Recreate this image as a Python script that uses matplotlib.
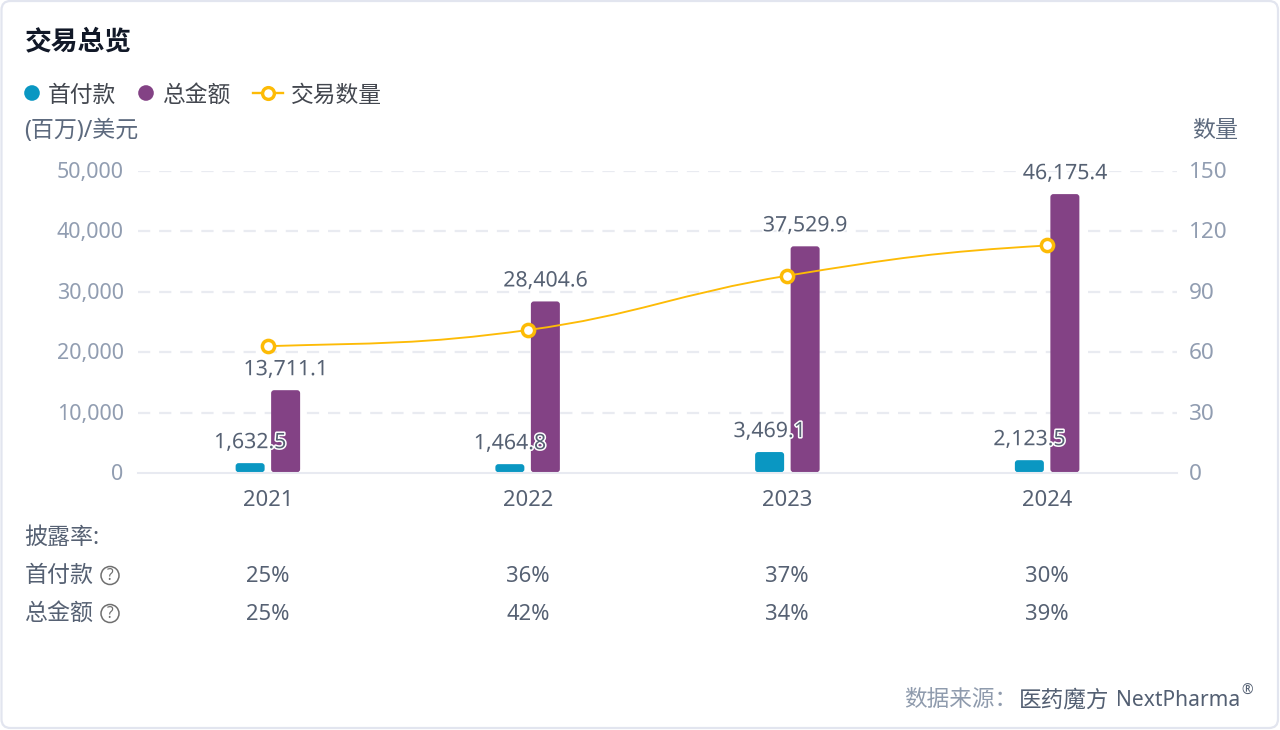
import matplotlib
matplotlib.use('Agg')
import matplotlib.pyplot as plt
import matplotlib.patheffects as pe
from matplotlib.patches import FancyBboxPatch, Circle
from matplotlib.path import Path
from matplotlib.patches import PathPatch
from matplotlib.transforms import ScaledTranslation

plt.rcParams['font.family'] = ['Noto Sans', 'Noto Sans CJK SC', 'DejaVu Sans']

years = ['2021', '2022', '2023', '2024']
upfront = [1632.5, 1464.8, 3469.1, 2123.5]
total = [13711.1, 28404.6, 37529.9, 46175.4]
deal_count = [63, 71, 98, 113]
upfront_rate = ['25%', '36%', '37%', '30%']
total_rate = ['25%', '42%', '34%', '39%']
left_ticks = [0, 10000, 20000, 30000, 40000, 50000]
right_ticks = [0, 30, 60, 90, 120, 150]

TEAL = '#0a97c2'
PURPLE = '#834285'
YELLOW = '#fdbb06'
AXIS_GREY = '#919db1'
LABEL = '#566173'


def px(size):
    return size * 0.72


def smooth_path(xs, ys, k=0.42):
    # cubic segments, tangents from the neighbouring points
    verts = [(xs[0], ys[0])]
    codes = [Path.MOVETO]
    n = len(xs)
    for i in range(n - 1):
        prev_y = ys[max(i - 1, 0)]
        next_y = ys[min(i + 2, n - 1)]
        dx = xs[i + 1] - xs[i]
        verts.append((xs[i] + dx * k, ys[i] + (ys[i + 1] - prev_y) * k / 2))
        verts.append((xs[i + 1] - dx * k, ys[i + 1] - (next_y - ys[i]) * k / 2))
        verts.append((xs[i + 1], ys[i + 1]))
        codes += [Path.CURVE4] * 3
    return Path(verts, codes)


def main():
    fig = plt.figure(figsize=(12.8, 7.3), dpi=100, facecolor='white')

    # overlay in pixel coordinates for the card and the html-like text
    ov = fig.add_axes([0, 0, 1, 1], zorder=0)
    ov.set_xlim(0, 1280)
    ov.set_ylim(730, 0)
    ov.axis('off')
    ov.add_patch(FancyBboxPatch((1.5, 1), 1276.5, 727, boxstyle='round,pad=0,rounding_size=9',
                                fc='white', ec='#e2e5ef', lw=1.6))

    ax = fig.add_axes([138 / 1280, (730 - 473) / 730, (1177 - 138) / 1280, 302 / 730], zorder=1)
    ax.patch.set_alpha(0)
    ax.set_xlim(-0.5, 3.5)
    ax.set_ylim(0, 50000)
    for s in ['top', 'left', 'right']:
        ax.spines[s].set_visible(False)
    ax.spines['bottom'].set_color('#e8eaf1')
    ax.spines['bottom'].set_linewidth(1.5)
    ax.set_yticks(left_ticks)
    ax.set_yticklabels([f'{v:,}' for v in left_ticks])
    ax.set_xticks(range(len(years)))
    ax.set_xticklabels(years)
    ax.tick_params(axis='y', length=0, pad=10.3, labelsize=px(21.5), labelcolor=AXIS_GREY)
    ax.tick_params(axis='x', length=0, pad=12, labelsize=px(22), labelcolor=LABEL)
    for v in left_ticks[1:]:
        ax.axhline(v, color='#e9ebf1', lw=1.6, dashes=(5.5, 4), zorder=0)

    # pixel -> data scale, so the corners stay round
    bar_w = 29 / 259.75
    gap = 35.5 / 259.75
    aspect = (50000 / 302) / (1 / 259.75)
    round_x = 3 / 259.75
    halo = [pe.withStroke(linewidth=2.2, foreground='white')]
    for i in range(len(years)):
        for val, off, col in [(upfront[i], -gap / 2, TEAL), (total[i], gap / 2, PURPLE)]:
            center = i + off
            ax.add_patch(FancyBboxPatch((center - bar_w / 2, 130), bar_w, val - 130,
                                        boxstyle=f'round,pad=0,rounding_size={round_x}',
                                        mutation_aspect=aspect, fc=col, ec='none', zorder=2))
            ax.text(center, val + 1650, f'{val:,.1f}', ha='center', va='bottom', fontsize=px(21.3),
                    color=LABEL, path_effects=halo, zorder=5)

    ax2 = ax.twinx()
    ax2.set_position(ax.get_position())
    ax2.patch.set_alpha(0)
    ax2.set_ylim(0, 150)
    for s in ax2.spines.values():
        s.set_visible(False)
    ax2.set_yticks(right_ticks)
    ax2.tick_params(axis='y', length=0, pad=8.5, labelsize=px(22.5), labelcolor=AXIS_GREY)
    xs = list(range(len(years)))
    ax2.add_patch(PathPatch(smooth_path(xs, deal_count), fc='none', ec=YELLOW, lw=1.35, zorder=3))
    ax2.plot(xs, deal_count, ls='none', marker='o', ms=8.8, mfc='white', mec=YELLOW, mew=2.5, zorder=4,
             clip_on=False)

    # tick labels sit one pixel above their gridlines
    up = ScaledTranslation(0, 1 / 100, fig.dpi_scale_trans)
    for lab in ax.get_yticklabels() + ax2.get_yticklabels():
        lab.set_transform(lab.get_transform() + up)

    # title and legend
    ov.text(25, 42.5, '交易总览', fontsize=px(26.8), fontweight='bold', color='#111827', va='center')
    ov.add_patch(Circle((32, 93), 7.8, fc=TEAL, ec='none'))
    ov.text(48, 96, '首付款', fontsize=px(22.8), color='#43474f', va='center')
    ov.add_patch(Circle((146, 93), 7.8, fc=PURPLE, ec='none'))
    ov.text(162, 96, '总金额', fontsize=px(22.8), color='#43474f', va='center')
    ov.plot([253, 283], [93, 93], color=YELLOW, lw=1.7)
    ov.plot([268], [93], marker='o', ms=8.5, mfc='white', mec=YELLOW, mew=2.4)
    ov.text(291, 96, '交易数量', fontsize=px(22.8), color='#43474f', va='center')
    ov.text(24.5, 131, '(百万)/美元', fontsize=px(23), color='#5d6a7e', va='center')
    ov.text(1192, 131, '数量', fontsize=px(23), color='#5d6a7e', va='center')

    # disclosure table
    ov.text(24.5, 538, '披露率:', fontsize=px(23), color=LABEL, va='center')
    centers = [268, 528, 787, 1047]
    for y, name, rates in [(574, '首付款', upfront_rate), (612, '总金额', total_rate)]:
        ov.text(24.5, y + 2, name, fontsize=px(23), color=LABEL, va='center')
        ov.add_patch(Circle((110, y + 1.5), 9, fc='none', ec='#6f6f6f', lw=1.1))
        ov.text(110, y + 1.5, '?', fontsize=px(15.5), color='#6f6f6f', ha='center', va='center')
        for cx, r in zip(centers, rates):
            ov.text(cx, y + 2, r, fontsize=px(22), color=LABEL, ha='center', va='center')

    # source line
    ov.text(904, 701, '数据来源：', fontsize=px(22.6), color='#8f9bad', va='center')
    ov.text(1019, 701, '医药魔方', fontsize=px(22.6), color='#535f72', va='center')
    ov.text(1116, 700, 'NextPharma', fontsize=px(21), color='#535f72', va='center')
    ov.text(1241, 691, '®', fontsize=px(14), color='#535f72', va='center')

    fig.savefig('out.png', dpi=100, facecolor='white')


if __name__ == '__main__':
    main()
